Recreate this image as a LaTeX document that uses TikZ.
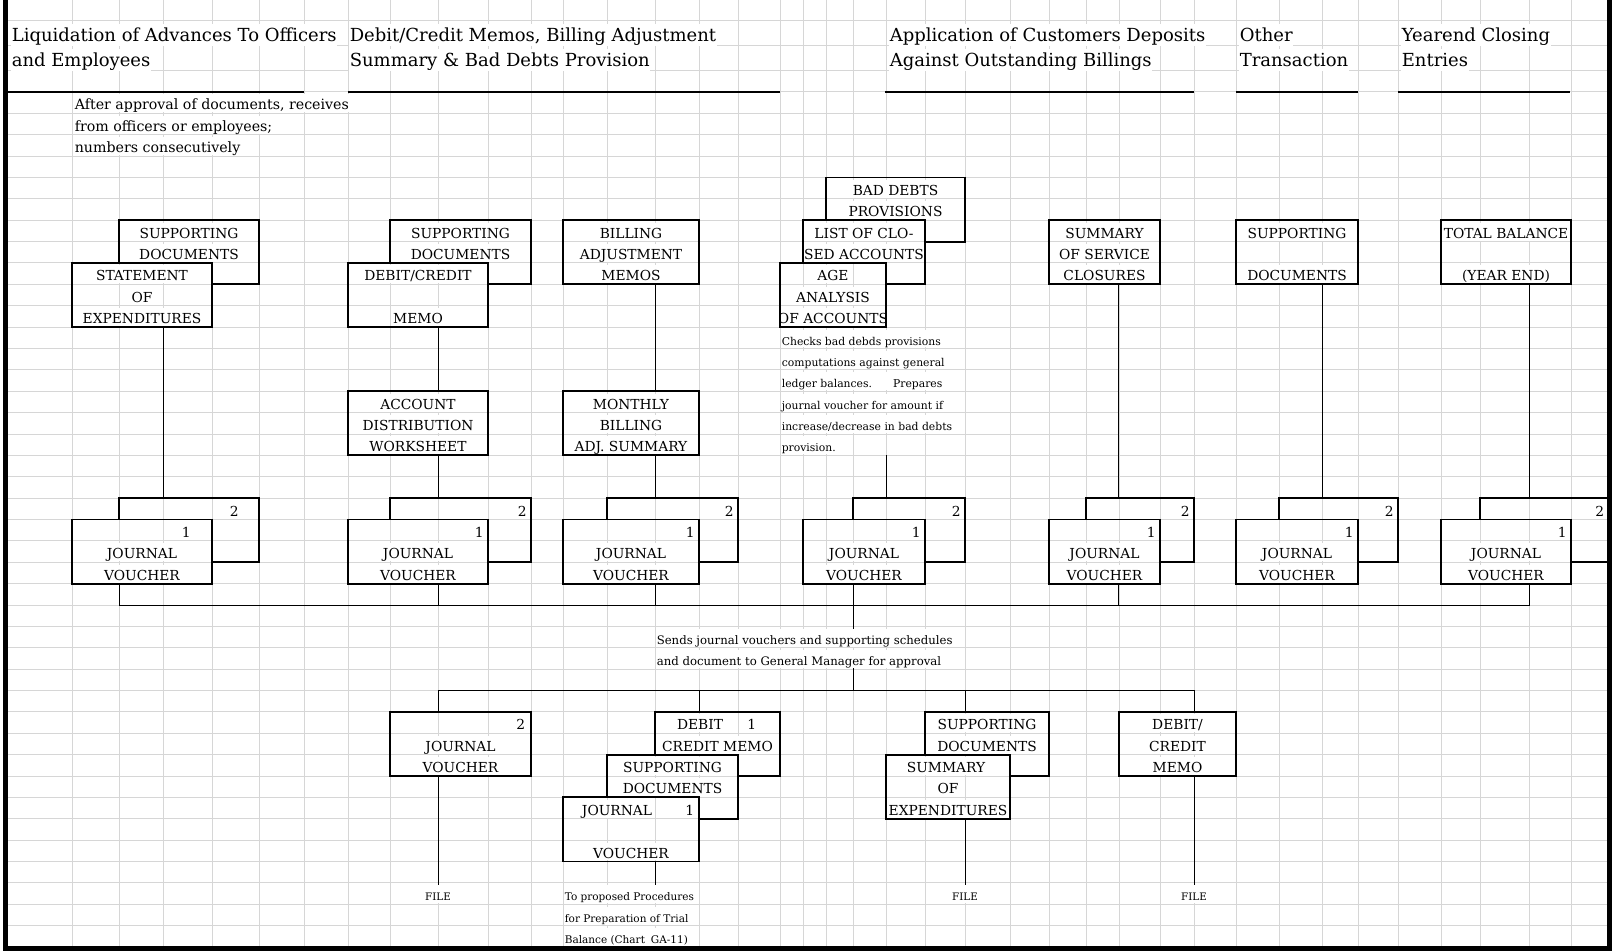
\documentclass[tikz,border=0pt]{standalone}
\usepackage{fontspec}
\setmainfont{DejaVu Serif}
\newcommand\fHead{\fontsize{18}{20}\selectfont}
\newcommand\fBox{\fontsize{13.8}{16}\selectfont}
\newcommand\fNote{\fontsize{14.2}{16}\selectfont}
\newcommand\fSend{\fontsize{11.7}{14}\selectfont}
\newcommand\fCheck{\fontsize{10.8}{13}\selectfont}
\newcommand\fProp{\fontsize{10.5}{12}\selectfont}
\newcommand\fFile{\fontsize{10.3}{12}\selectfont}
% a rectangle spanning columns x1..x2 and sheet rows k1..k2
\newcommand\sheetbox[5]{%
  \pgfmathsetmacro\sbw{#4-#2}%
  \pgfmathsetmacro\sbh{21.375*(#5-#3)}%
  \pgfmathsetmacro\sbx{(#2+#4)/2}%
  \pgfmathsetmacro\sby{92+21.375*(#3+#5)/2}%
  \node[cellbox, minimum width=\sbw pt, minimum height=\sbh pt] (#1) at (\sbx,\sby) {};}
% one line of text sitting on sheet row k
\newcommand\rowtext[5][]{%
  \pgfmathsetmacro\rtbase{92+21.375*(#4+1)-3.5}%
  \node[rowtxt,#1] (#2) at (#3,\rtbase) {#5};}
% visible edges of a box that lies behind another one
\newcommand\backoutline[2]{%
  \draw[boxline] (#1.south west |- #2.north) -- (#1.north west) -- (#1.north east)
    -- (#1.south east) -- (#2.south east |- #1.south);}
\begin{document}
\begin{tikzpicture}[x=1pt,y=-1pt,
  gridline/.style={draw=black!16, line width=1pt},
  sheetedge/.style={draw=black, line width=5.5pt},
  headrule/.style={draw=black, line width=2.6pt},
  cellbox/.style={rectangle, inner sep=0pt, outer sep=0pt},
  boxline/.style={draw=black, line width=1.8pt},
  link/.style={draw=black, line width=0.9pt},
  rowtxt/.style={fill=white, inner xsep=0.6pt, inner ysep=0pt, text height=15.5pt,
    text depth=2.4pt, anchor=base, font=\fBox},
  headtxt/.style={fill=white, inner xsep=0.6pt, inner ysep=0pt, text height=18pt,
    text depth=4pt, anchor=base west, font=\fHead},
  notetxt/.style={anchor=base west, font=\fNote},
  sendtxt/.style={anchor=base west, font=\fSend},
  checktxt/.style={anchor=base west, font=\fCheck},
  proptxt/.style={anchor=base west, font=\fProp},
  filetxt/.style={font=\fFile},
  num/.style={anchor=base east},
]
\useasboundingbox (0,0) rectangle (1612,952);

% ---------- spreadsheet grid ----------
\foreach \gx in {72,119,163,212,259,304,348,390,438,488,531,563,607,655,699,738,780,
  803,826,853,886,925,965,1010,1049,1086,1119,1160,1194,1236,1279,1322,1358,1398,
  1441,1480,1529,1571}
  \draw[gridline] (\gx,0) -- (\gx,947);
\foreach \gy in {21,46,71}
  \draw[gridline] (5,\gy) -- (1609,\gy);
\foreach \k in {0,...,39}
  \draw[gridline] (5,{92+21.375*\k}) -- (1609,{92+21.375*\k});

% ---------- boxes ----------
\sheetbox{c1sup}{119}{6}{259}{9}
\sheetbox{c1stm}{72}{8}{212}{11}
\sheetbox{c1jv2}{119}{19}{259}{22}
\sheetbox{c1jv1}{72}{20}{212}{23}
\sheetbox{c2sup}{390}{6}{531}{9}
\sheetbox{c2memo}{348}{8}{488}{11}
\sheetbox{c2acct}{348}{14}{488}{17}
\sheetbox{c2jv2}{390}{19}{531}{22}
\sheetbox{c2jv1}{348}{20}{488}{23}
\sheetbox{c3bill}{563}{6}{699}{9}
\sheetbox{c3mon}{563}{14}{699}{17}
\sheetbox{c3jv2}{607}{19}{738}{22}
\sheetbox{c3jv1}{563}{20}{699}{23}
\sheetbox{c4bad}{826}{4}{965}{7}
\sheetbox{c4list}{803}{6}{925}{9}
\sheetbox{c4age}{780}{8}{886}{11}
\sheetbox{c4jv2}{853}{19}{965}{22}
\sheetbox{c4jv1}{803}{20}{925}{23}
\sheetbox{c5sum}{1049}{6}{1160}{9}
\sheetbox{c5jv2}{1086}{19}{1194}{22}
\sheetbox{c5jv1}{1049}{20}{1160}{23}
\sheetbox{c6sup}{1236}{6}{1358}{9}
\sheetbox{c6jv2}{1279}{19}{1398}{22}
\sheetbox{c6jv1}{1236}{20}{1358}{23}
\sheetbox{c7tot}{1441}{6}{1571}{9}
\sheetbox{c7jv2}{1480}{19}{1609}{22}
\sheetbox{c7jv1}{1441}{20}{1571}{23}
\sheetbox{ljv2}{390}{29}{531}{32}
\sheetbox{ldeb}{655}{29}{780}{32}
\sheetbox{lsup}{607}{31}{738}{34}
\sheetbox{ljour}{563}{33}{699}{36}
\sheetbox{rsup}{925}{29}{1049}{32}
\sheetbox{rsum}{886}{31}{1010}{34}
\sheetbox{rcred}{1119}{29}{1236}{32}

% ---------- headings ----------
\node[headtxt] (h1a) at (11,42) {Liquidation of Advances To Officers};
\node[headtxt] (h1b) at (11,67) {and Employees};
\node[headtxt] (h2a) at (349,42) {Debit/Credit Memos, Billing Adjustment};
\node[headtxt] (h2b) at (349,67) {Summary \& Bad Debts Provision};
\node[headtxt] (h3a) at (889,42) {Application of Customers Deposits};
\node[headtxt] (h3b) at (889,67) {Against Outstanding Billings};
\node[headtxt] (h4a) at (1239,42) {Other};
\node[headtxt] (h4b) at (1239,67) {Transaction};
\node[headtxt] (h5a) at (1401,42) {Yearend Closing};
\node[headtxt] (h5b) at (1401,67) {Entries};

% ---------- notes ----------
\rowtext[notetxt]{n1}{74}{0}{After approval of documents, receives}
\rowtext[notetxt]{n2}{74}{1}{from officers or employees;}
\rowtext[notetxt]{n3}{74}{2}{numbers consecutively}
\rowtext[checktxt]{k1}{781}{11}{Checks bad debds provisions}
\rowtext[checktxt]{k2}{781}{12}{computations against general}
\rowtext[checktxt]{k3}{781}{13}{ledger balances.\hspace{21pt}Prepares}
\rowtext[checktxt]{k4}{781}{14}{journal voucher for amount if}
\rowtext[checktxt]{k5}{781}{15}{increase/decrease in bad debts}
\rowtext[checktxt]{k6}{781}{16}{provision.}
\rowtext[sendtxt]{s1}{656}{25}{Sends journal vouchers and supporting schedules}
\rowtext[sendtxt]{s2}{656}{26}{and document to General Manager for approval}
\rowtext[proptxt]{p1}{564}{37}{To proposed Procedures}
\rowtext[proptxt]{p2}{564}{38}{for Preparation of Trial}
\rowtext[proptxt]{p3}{564}{39}{Balance (Chart\hspace{6pt}GA-11)}
\rowtext[filetxt]{f1}{438}{37}{FILE}
\rowtext[filetxt]{f2}{965}{37}{FILE}
\rowtext[filetxt]{f3}{1194}{37}{FILE}

% ---------- box texts ----------
\rowtext{c1supa}{189}{6}{SUPPORTING}
\rowtext{c1supb}{189}{7}{DOCUMENTS}
\rowtext{c1stma}{142}{8}{STATEMENT}
\rowtext{c1stmb}{142}{9}{OF}
\rowtext{c1stmc}{142}{10}{EXPENDITURES}
\rowtext[num]{c1n2}{239.5}{19}{2}
\rowtext[num]{c1n1}{191.5}{20}{1}
\rowtext{c1jva}{142}{21}{JOURNAL}
\rowtext{c1jvb}{142}{22}{VOUCHER}

\rowtext{c2supa}{460.5}{6}{SUPPORTING}
\rowtext{c2supb}{460.5}{7}{DOCUMENTS}
\rowtext{c2memoa}{418}{8}{DEBIT/CREDIT}
\rowtext{c2memob}{418}{10}{MEMO}
\rowtext{c2accta}{418}{14}{ACCOUNT}
\rowtext{c2acctb}{418}{15}{DISTRIBUTION}
\rowtext{c2acctc}{418}{16}{WORKSHEET}
\rowtext[num]{c2n2}{527.5}{19}{2}
\rowtext[num]{c2n1}{484.5}{20}{1}
\rowtext{c2jva}{418}{21}{JOURNAL}
\rowtext{c2jvb}{418}{22}{VOUCHER}

\rowtext{c3billa}{631}{6}{BILLING}
\rowtext{c3billb}{631}{7}{ADJUSTMENT}
\rowtext{c3billc}{631}{8}{MEMOS}
\rowtext{c3mona}{631}{14}{MONTHLY}
\rowtext{c3monb}{631}{15}{BILLING}
\rowtext{c3monc}{631}{16}{ADJ. SUMMARY}
\rowtext[num]{c3n2}{734.5}{19}{2}
\rowtext[num]{c3n1}{695.5}{20}{1}
\rowtext{c3jva}{631}{21}{JOURNAL}
\rowtext{c3jvb}{631}{22}{VOUCHER}

\rowtext{c4bada}{895.5}{4}{BAD DEBTS}
\rowtext{c4badb}{895.5}{5}{PROVISIONS}
\rowtext{c4lista}{864}{6}{LIST OF CLO-}
\begin{scope}
  \clip (c4list.north west) rectangle (c4list.south east);
  \rowtext{c4listb}{864}{7}{SED ACCOUNTS}
\end{scope}
\rowtext{c4agea}{833}{8}{AGE}
\rowtext{c4ageb}{833}{9}{ANALYSIS}
\begin{scope}
  \clip (c4age.north west) rectangle (c4age.south east);
  \rowtext{c4agec}{833}{10}{OF ACCOUNTS}
\end{scope}
\rowtext[num]{c4n2}{961.5}{19}{2}
\rowtext[num]{c4n1}{921.5}{20}{1}
\rowtext{c4jva}{864}{21}{JOURNAL}
\rowtext{c4jvb}{864}{22}{VOUCHER}

\rowtext{c5suma}{1104.5}{6}{SUMMARY}
\rowtext{c5sumb}{1104.5}{7}{OF SERVICE}
\rowtext{c5sumc}{1104.5}{8}{CLOSURES}
\rowtext[num]{c5n2}{1190.5}{19}{2}
\rowtext[num]{c5n1}{1156.5}{20}{1}
\rowtext{c5jva}{1104.5}{21}{JOURNAL}
\rowtext{c5jvb}{1104.5}{22}{VOUCHER}

\rowtext{c6supa}{1297}{6}{SUPPORTING}
\rowtext{c6supb}{1297}{8}{DOCUMENTS}
\rowtext[num]{c6n2}{1394.5}{19}{2}
\rowtext[num]{c6n1}{1354.5}{20}{1}
\rowtext{c6jva}{1297}{21}{JOURNAL}
\rowtext{c6jvb}{1297}{22}{VOUCHER}

\rowtext{c7tota}{1506}{6}{TOTAL BALANCE}
\rowtext{c7totb}{1506}{8}{(YEAR END)}
\rowtext[num]{c7n2}{1605}{19}{2}
\rowtext[num]{c7n1}{1567.5}{20}{1}
\rowtext{c7jva}{1506}{21}{JOURNAL}
\rowtext{c7jvb}{1506}{22}{VOUCHER}

\rowtext[num]{ljvn}{526}{29}{2}
\rowtext{ljva}{460.5}{30}{JOURNAL}
\rowtext{ljvb}{460.5}{31}{VOUCHER}
\rowtext{ldeba}{700}{29}{DEBIT}
\rowtext[num]{ldebn}{757}{29}{1}
\rowtext{ldebb}{717.5}{30}{CREDIT MEMO}
\rowtext{lsupa}{672.5}{31}{SUPPORTING}
\rowtext{lsupb}{672.5}{32}{DOCUMENTS}
\rowtext{ljoura}{617}{33}{JOURNAL}
\rowtext[num]{ljourn}{695}{33}{1}
\rowtext{ljourb}{631}{35}{VOUCHER}
\rowtext{rsupa}{987}{29}{SUPPORTING}
\rowtext{rsupb}{987}{30}{DOCUMENTS}
\rowtext{rsuma}{946}{31}{SUMMARY}
\rowtext{rsumb}{948}{32}{OF}
\rowtext{rsumc}{948}{33}{EXPENDITURES}
\rowtext{rcreda}{1177.5}{29}{DEBIT/}
\rowtext{rcredb}{1177.5}{30}{CREDIT}
\rowtext{rcredc}{1177.5}{31}{MEMO}

% ---------- box outlines ----------
\backoutline{c1sup}{c1stm}
\draw[boxline] (c1stm.north west) rectangle (c1stm.south east);
\backoutline{c1jv2}{c1jv1}
\draw[boxline] (c1jv1.north west) rectangle (c1jv1.south east);
\backoutline{c2sup}{c2memo}
\draw[boxline] (c2memo.north west) rectangle (c2memo.south east);
\draw[boxline] (c2acct.north west) rectangle (c2acct.south east);
\backoutline{c2jv2}{c2jv1}
\draw[boxline] (c2jv1.north west) rectangle (c2jv1.south east);
\draw[boxline] (c3bill.north west) rectangle (c3bill.south east);
\draw[boxline] (c3mon.north west) rectangle (c3mon.south east);
\backoutline{c3jv2}{c3jv1}
\draw[boxline] (c3jv1.north west) rectangle (c3jv1.south east);
\backoutline{c4bad}{c4list}
\backoutline{c4list}{c4age}
\draw[boxline] (c4age.north west) rectangle (c4age.south east);
\backoutline{c4jv2}{c4jv1}
\draw[boxline] (c4jv1.north west) rectangle (c4jv1.south east);
\draw[boxline] (c5sum.north west) rectangle (c5sum.south east);
\backoutline{c5jv2}{c5jv1}
\draw[boxline] (c5jv1.north west) rectangle (c5jv1.south east);
\draw[boxline] (c6sup.north west) rectangle (c6sup.south east);
\backoutline{c6jv2}{c6jv1}
\draw[boxline] (c6jv1.north west) rectangle (c6jv1.south east);
\draw[boxline] (c7tot.north west) rectangle (c7tot.south east);
\backoutline{c7jv2}{c7jv1}
\draw[boxline] (c7jv1.north west) rectangle (c7jv1.south east);
\draw[boxline] (ljv2.north west) rectangle (ljv2.south east);
\backoutline{ldeb}{lsup}
\backoutline{lsup}{ljour}
\draw[boxline] (ljour.north west) rectangle (ljour.south east);
\backoutline{rsup}{rsum}
\draw[boxline] (rsum.north west) rectangle (rsum.south east);
\draw[boxline] (rcred.north west) rectangle (rcred.south east);

% ---------- connectors ----------
\draw[link] (c1stm.south -| 163,0) -- (c1jv2.north -| 163,0);
\draw[link] (c2memo.south -| 438,0) -- (c2acct.north -| 438,0);
\draw[link] (c2acct.south -| 438,0) -- (c2jv2.north -| 438,0);
\draw[link] (c3bill.south -| 655,0) -- (c3mon.north -| 655,0);
\draw[link] (c3mon.south -| 655,0) -- (c3jv2.north -| 655,0);
\coordinate (c4from) at (886,455.375);
\draw[link] (c4from) -- (c4jv2.north -| 886,0);
\draw[link] (c5sum.south -| 1118,0) -- (c5jv2.north -| 1118,0);
\draw[link] (c6sup.south -| 1322,0) -- (c6jv2.north -| 1322,0);
\draw[link] (c7tot.south -| 1529,0) -- (c7jv2.north -| 1529,0);

% collecting line under the journal vouchers
\coordinate (busL) at (119,605);
\coordinate (busR) at (1529,605);
\draw[link] (c1jv1.south -| busL) -- (busL) -- (busR) -- (c7jv1.south -| busR);
\draw[link] (c2jv1.south -| 438,0) -- (438,0 |- busL);
\draw[link] (c3jv1.south -| 655,0) -- (655,0 |- busL);
\draw[link] (c5jv1.south -| 1118,0) -- (1118,0 |- busL);
\draw[link] (c4jv1.south -| 853,0) -- (s1.north -| 853,0);

% distribution line after approval
\coordinate (bus2L) at (438,690.5);
\coordinate (bus2R) at (1194,690.5);
\draw[link] (s2.south -| 853,0) -- (853,0 |- bus2L);
\draw[link] (ljv2.north -| bus2L) -- (bus2L) -- (bus2R) -- (rcred.north -| bus2R);
\draw[link] (699,0 |- bus2L) -- (ldeb.north -| 699,0);
\draw[link] (965,0 |- bus2L) -- (rsup.north -| 965,0);

% lines to the files
\draw[link] (ljv2.south -| 438,0) -- (f1.north);
\draw[link] (ljour.south -| 655,0) -- (p1.north -| 655,0);
\draw[link] (rsum.south -| 965,0) -- (f2.north);
\draw[link] (rcred.south -| 1194,0) -- (f3.north);

% ---------- heading rules ----------
\draw[headrule] (8,92) -- (304,92);
\draw[headrule] (348,92) -- (780,92);
\draw[headrule] (885,92) -- (1194,92);
\draw[headrule] (1236,92) -- (1358,92);
\draw[headrule] (1398,92) -- (1570,92);

% ---------- sheet edge ----------
\draw[sheetedge] (5.5,0) -- (5.5,948.5) -- (1609.25,948.5) -- (1609.25,0);
\end{tikzpicture}
\end{document}
